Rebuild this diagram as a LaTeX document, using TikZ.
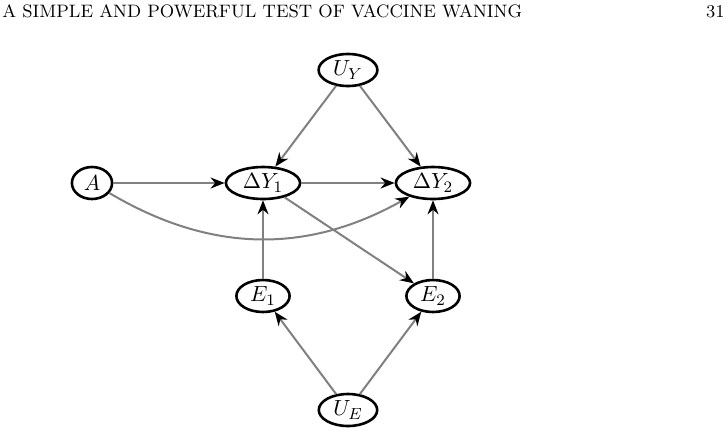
\documentclass[tikz,border=0pt]{standalone}
\usetikzlibrary{arrows.meta,shapes.geometric}

\begin{document}
\begin{tikzpicture}[
  x=0.5pt,y=-0.5pt,
  var/.style={draw,ellipse,line width=1.3pt,inner xsep=3pt,inner ysep=1pt,minimum height=16pt,font=\fontsize{11}{13}\selectfont},
  link/.style={-{Stealth[length=7pt,width=5.5pt,black]},gray,line width=1pt},
  head/.style={font=\fontsize{9}{11}\selectfont,inner sep=0pt}
]
  \useasboundingbox (0,0) rectangle (728,436);
  \node[head,anchor=base west] (title) at (2,17) {A SIMPLE AND POWERFUL TEST OF VACCINE WANING};
  \node[head,anchor=base east] (page) at (725,17) {31};

  \node[var] (uy) at (348,70) {$U_Y$};
  \node[var] (a) at (92,183) {$A$};
  \node[var] (dy1) at (263,183) {$\Delta Y_1$};
  \node[var] (dy2) at (433,183) {$\Delta Y_2$};
  \node[var] (e1) at (263,296) {$E_1$};
  \node[var] (e2) at (433,296) {$E_2$};
  \node[var] (ue) at (348,410) {$U_E$};

  \draw[link] (uy) -- (dy1);
  \draw[link] (uy) -- (dy2);
  \draw[link] (a) -- (dy1);
  \draw[link] (dy1) -- (dy2);
  \draw[link] (a) to[bend right=30] (dy2);
  \draw[link] (dy1) -- (e2);
  \draw[link] (e1) -- (dy1);
  \draw[link] (e2) -- (dy2);
  \draw[link] (ue) -- (e1);
  \draw[link] (ue) -- (e2);
\end{tikzpicture}
\end{document}
